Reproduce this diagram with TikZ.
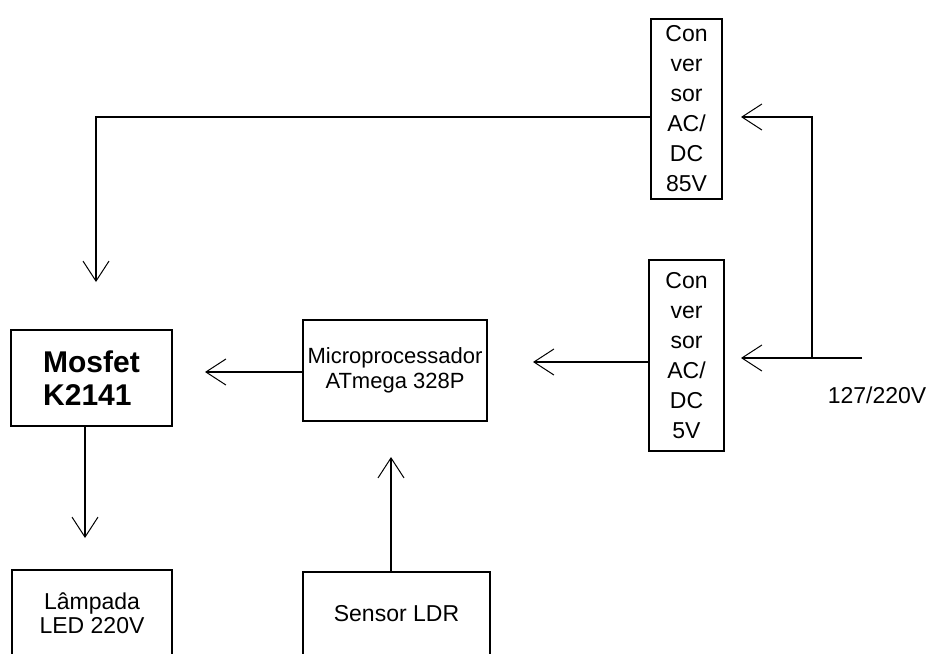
\documentclass[tikz,border=0pt]{standalone}
\usepackage{fontspec}
\setmainfont{Liberation Sans}
\usetikzlibrary{arrows.meta}
\begin{document}
\begin{tikzpicture}[x=0.5pt, y=-0.5pt, line width=0.6pt,
    bloco/.style={draw, rectangle, inner sep=0pt, align=center, font=\fontsize{11.5}{15}\selectfont},
    seta/.style={-{Straight Barb[length=10pt, width=13pt, line width=0.5pt]}}]
    \useasboundingbox (0,0) rectangle (929,653);
    \clip (0,0) rectangle (929,653);
    \node[bloco, minimum width=35.5pt, minimum height=90pt] (conv85) at (686.5, 109) {Con\\ver\\sor\\AC/\\DC\\85V};
    \node[bloco, minimum width=37.5pt, minimum height=95.5pt] (conv5) at (686.5, 355.5) {Con\\ver\\sor\\AC/\\DC\\5V};
    \node[bloco, minimum width=92pt, minimum height=50.5pt, font=\fontsize{11}{12.5}\selectfont] (micro) at (395, 370.5) {Microprocessador\\ATmega 328P};
    \node[bloco, minimum width=80.5pt, minimum height=48pt, align=left, font=\fontsize{15}{16.5}\selectfont\bfseries] (mosfet) at (91.5, 378) {Mosfet\\K2141};
    \node[bloco, minimum width=80pt, minimum height=43pt, font=\fontsize{11.5}{12}\selectfont] (lampada) at (92, 613) {Lâmpada\\LED 220V};
    \node[bloco, minimum width=93.5pt, minimum height=42pt] (sensor) at (396.5, 614) {Sensor LDR};
    \node[font=\fontsize{11.5}{14}\selectfont] (tensao) at (877, 395) {127/220V};
    \coordinate (rede) at (862, 358);
    \coordinate (juncao) at (812, 358);
    \coordinate (p85) at (741, 117);
    \coordinate (p5) at (741, 358);
    \coordinate (pmos) at (96, 282);
    \coordinate (pmicro) at (533, 362);
    \coordinate (pmosfet) at (205, 372);
    \coordinate (plamp) at (85, 538);
    \coordinate (pldr) at (391, 457);
    \draw (rede) -- (juncao);
    \draw[seta] (juncao) |- (p85);
    \draw[seta] (juncao) -- (p5);
    \draw[seta] ([yshift=-4pt]conv85.west) -| (pmos);
    \draw[seta] ([yshift=-3.25pt]conv5.west) -- (pmicro);
    \draw[seta] ([yshift=-0.75pt]micro.west) -- (pmosfet);
    \draw[seta] ([xshift=-3.25pt]mosfet.south) -- (plamp);
    \draw[seta] ([xshift=-2.75pt]sensor.north) -- (pldr);
\end{tikzpicture}
\end{document}
